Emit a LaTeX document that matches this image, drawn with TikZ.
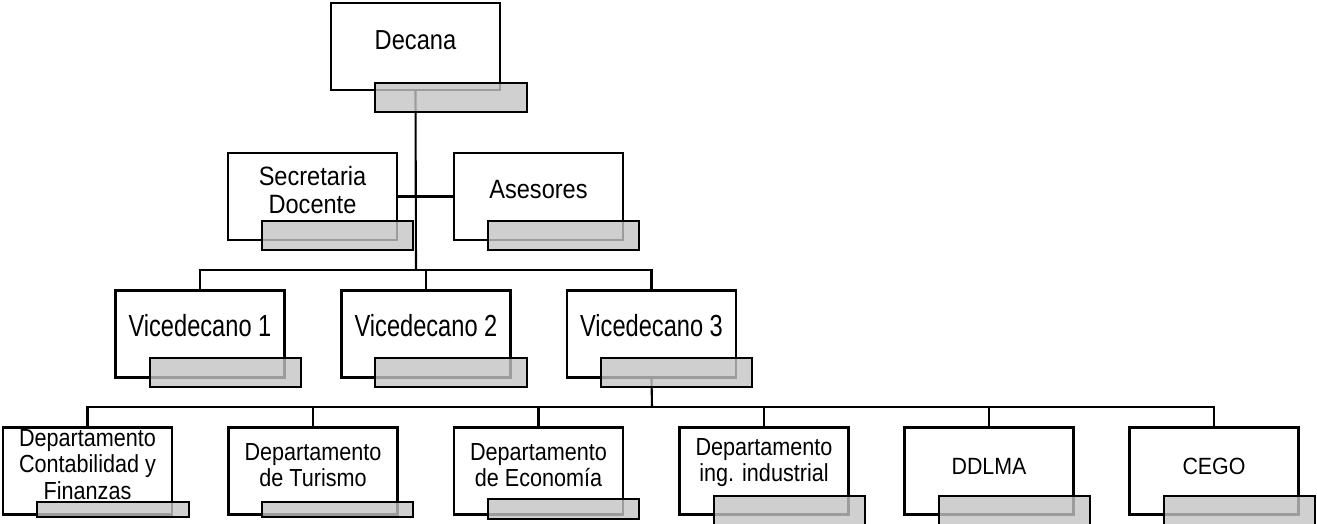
\documentclass[tikz,border=0pt]{standalone}
\usepackage{fontspec}
\setmainfont{Liberation Sans}[FakeStretch=0.88]
\newfontfamily\fdec{Liberation Sans}[FakeStretch=0.86]
\newfontfamily\fvic{Liberation Sans}[FakeStretch=0.775]
\newfontfamily\fsec{Liberation Sans}[FakeStretch=0.89]
\newfontfamily\fdep{Liberation Sans}[FakeStretch=0.875]
\newfontfamily\fabb{Liberation Sans}[FakeStretch=0.91]
\definecolor{shadegray}{HTML}{C4C4C4}
\begin{document}
\begin{tikzpicture}[x=1pt,y=-1pt,
  box/.style={draw=black, line width=2.1pt, fill=white, rectangle, minimum width=169pt, minimum height=87pt, inner sep=0pt},
  lbl/.style={align=center, inner sep=0pt},
  shadebox/.style={draw=black, line width=2.1pt, fill=shadegray, fill opacity=0.8},
  conn/.style={draw=black, line width=2.1pt}]
\useasboundingbox (0,0) rectangle (1317,523);
% boxes
\node[box] (dec) at (415.5,46.5) {};
\node[box] (sec) at (312.5,196.5) {};
\node[box] (ase) at (538.5,196.5) {};
\node[box] (v1) at (200,334) {};
\node[box] (v2) at (426,334) {};
\node[box] (v3) at (651.5,334) {};
\node[box] (d1) at (87.5,471) {};
\node[box] (d2) at (313,471) {};
\node[box] (d3) at (538.5,471) {};
\node[box] (d4) at (764,471) {};
\node[box] (d5) at (989,471) {};
\node[box] (d6) at (1214,471) {};
% connectors
\coordinate (bus1) at (416,270);
\coordinate (bus2) at (652,407);
\draw[conn] (dec.south) -- (bus1);
\draw[conn] (sec.east) -- (ase.west);
\draw[conn] (v1.north) |- (bus1) -| (v3.north);
\draw[conn] (v2.north) -- (v2.north |- bus1);
\draw[conn] (v3.south) -- (bus2);
\draw[conn] (d1.north) |- (bus2) -| (d6.north);
\draw[conn] (d2.north) -- (d2.north |- bus2);
\draw[conn] (d3.north) -- (d3.north |- bus2);
\draw[conn] (d4.north) -- (d4.north |- bus2);
\draw[conn] (d5.north) -- (d5.north |- bus2);
% shaded bars
\draw[shadebox] (375,83) rectangle (527,112);
\draw[shadebox] (262,221) rectangle (413,250);
\draw[shadebox] (488,221) rectangle (639,250);
\draw[shadebox] (150,358) rectangle (301,387);
\draw[shadebox] (375,358) rectangle (527,387);
\draw[shadebox] (601,358) rectangle (752,387);
\draw[shadebox] (37,502) rectangle (189,517);
\draw[shadebox] (262,502) rectangle (413,517);
\draw[shadebox] (488,499) rectangle (639,519);
\draw[shadebox] (714,496) rectangle (865,535);
\draw[shadebox] (939,496) rectangle (1090,535);
\draw[shadebox] (1164,496) rectangle (1315,535);
% labels
\node[lbl, font=\fdec\fontsize{27.5}{29}\selectfont] (tdec) at ([yshift=6pt]dec.center) {Decana};
\node[lbl, font=\fsec\fontsize{26.5}{28}\selectfont] (tsec) at ([yshift=6.5pt]sec.center) {Secretaria\\Docente};
\node[lbl, font=\fsec\fontsize{26.5}{28}\selectfont] (tase) at ([yshift=6.5pt]ase.center) {Asesores};
\node[lbl, font=\fvic\fontsize{30.5}{32}\selectfont] (tv1) at ([yshift=8pt]v1.center) {Vicedecano 1};
\node[lbl, font=\fvic\fontsize{30.5}{32}\selectfont] (tv2) at ([yshift=8pt]v2.center) {Vicedecano 2};
\node[lbl, font=\fvic\fontsize{30.5}{32}\selectfont] (tv3) at ([yshift=8pt]v3.center) {Vicedecano 3};
\node[lbl, font=\fdep\fontsize{24.7}{26.5}\selectfont] (td1) at ([yshift=6.5pt]d1.center) {Departamento\\Contabilidad y\\Finanzas};
\node[lbl, font=\fdep\fontsize{24.7}{26.5}\selectfont] (td2) at ([yshift=6pt]d2.center) {Departamento\\de Turismo};
\node[lbl, font=\fdep\fontsize{24.7}{26.5}\selectfont] (td3) at ([yshift=6pt]d3.center) {Departamento\\de Economía};
\node[lbl, font=\fdep\fontsize{24.7}{26.5}\selectfont] (td4) at ([yshift=8.5pt]d4.center) {Departamento\\ing. industrial};
\node[lbl, font=\fabb\fontsize{23.5}{25}\selectfont] (td5) at ([yshift=5pt]d5.center) {DDLMA};
\node[lbl, font=\fabb\fontsize{23.5}{25}\selectfont] (td6) at ([yshift=5pt]d6.center) {CEGO};
\end{tikzpicture}
\end{document}
